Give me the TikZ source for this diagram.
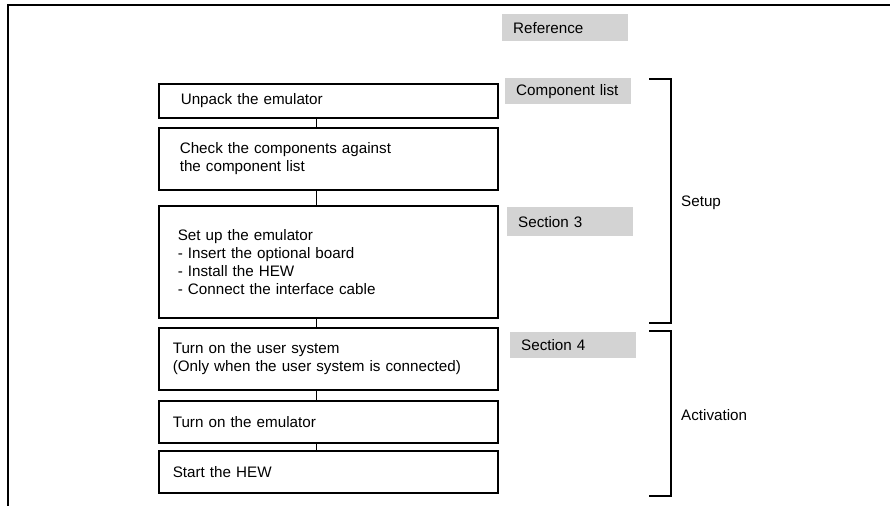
\documentclass[tikz,border=0pt]{standalone}
\usepackage{fontspec}
\setmainfont{Liberation Sans}
\definecolor{refgray}{RGB}{211,211,211}
\begin{document}
\begin{tikzpicture}[x=1pt,y=-1pt,
  every node/.style={font=\fontsize{15.2}{18}\selectfont},
  flow/.style={draw, line width=1.6pt, anchor=north west, align=left, inner ysep=0pt},
  refbox/.style={fill=refgray, anchor=north west, align=left, inner xsep=11pt, inner ysep=0pt, text width=104pt, minimum width=126pt},
  conn/.style={line width=1.6pt},
  bracket/.style={line width=1.6pt},
  lbl/.style={anchor=west, inner sep=0pt}]
\useasboundingbox (0,0) rectangle (892,506);
% frame
\draw[line width=1.6pt] (8,506) -- (8,5) -- (890,5);
% flow boxes
\node[flow, inner xsep=22pt, text width=295pt, minimum height=34pt] (n1) at (158,83) {Unpack the emulator};
\node[flow, inner xsep=21pt, text width=297pt, minimum height=62pt] (n2) at (158,127) {Check the components against\\the component list};
\node[flow, inner xsep=19pt, text width=301pt, minimum height=112pt] (n3) at (158,205) {Set up the emulator\\- Insert the optional board\\- Install the HEW\\- Connect the interface cable};
\node[flow, inner xsep=14pt, text width=311pt, minimum height=62pt] (n4) at (158,327) {Turn on the user system\\(Only when the user system is connected)};
\node[flow, inner xsep=14pt, text width=311pt, minimum height=42pt] (n5) at (158,400) {Turn on the emulator};
\node[flow, inner xsep=14pt, text width=311pt, minimum height=42pt] (n6) at (158,450) {Start the HEW};
% connectors
\draw[conn] ([xshift=-12pt]n1.south) -- ([xshift=-12pt]n2.north);
\draw[conn] ([xshift=-12pt]n2.south) -- ([xshift=-12pt]n3.north);
\draw[conn] ([xshift=-12pt]n3.south) -- ([xshift=-12pt]n4.north);
\draw[conn] ([xshift=-12pt]n4.south) -- ([xshift=-12pt]n5.north);
\draw[conn] ([xshift=-12pt]n5.south) -- ([xshift=-12pt]n6.north);
% reference boxes
\node[refbox, minimum height=27pt] (r0) at (502,14) {Reference};
\node[refbox, minimum height=26pt] (r1) at (505,78) {Component list};
\node[refbox, minimum height=29pt] (r2) at (507,207) {Section 3};
\node[refbox, minimum height=26pt] (r3) at (510,332) {Section 4};
% brackets
\draw[bracket] (649,79) -- (671,79) -- (671,323) -- (649,323);
\draw[bracket] (649,331) -- (671,331) -- (671,496) -- (649,496);
\node[lbl] (setup) at (681,203) {Setup};
\node[lbl] (act) at (681,415) {Activation};
\end{tikzpicture}
\end{document}
